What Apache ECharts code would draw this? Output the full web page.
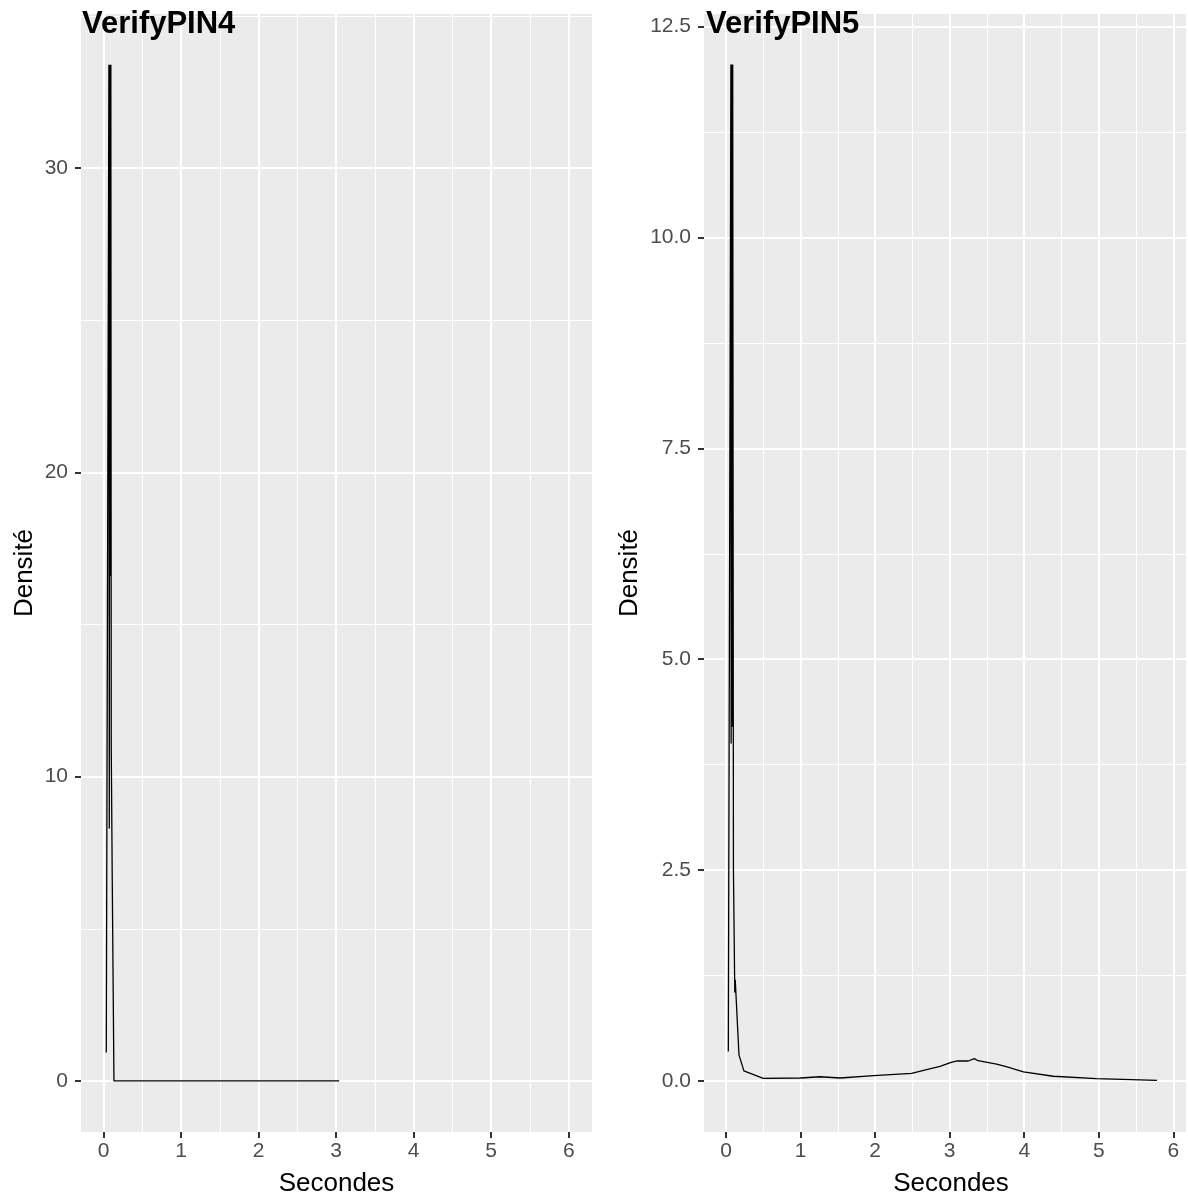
<!DOCTYPE html>
<html>
<head>
<meta charset="utf-8">
<script src="https://cdn.jsdelivr.net/npm/echarts@6/dist/echarts.min.js"></script>
<style>
html, body { margin: 0; padding: 0; background: #fff; }
#chart { width: 1188px; height: 1195px; }
</style>
</head>
<body>
<div id="chart"></div>
<script>
// VerifyPIN4 density curve (seconds, density)
const pin4X = [0.036, 0.07, 0.075, 0.078, 0.08, 0.082, 0.084, 0.086, 0.088, 0.09, 0.092, 0.095, 0.1, 0.113, 0.135, 0.5, 1.0, 1.5, 2.0, 2.5, 3.04];
const pin4Y = [0.93, 33.4, 8.3, 33.4, 16.6, 33.4, 16.7, 33.4, 16.6, 33.4, 16.7, 33.4, 11.0, 6.6, 0, 0, 0, 0, 0, 0, 0];

// VerifyPIN5 density curve
const pin5X = [0.031, 0.066, 0.069, 0.072, 0.075, 0.078, 0.081, 0.084, 0.087, 0.09, 0.094, 0.1, 0.118, 0.124, 0.174, 0.24, 0.5, 1.0, 1.26, 1.53, 1.98, 2.49, 2.65, 2.87, 3.01, 3.1, 3.25, 3.33, 3.38, 3.63, 3.77, 3.99, 4.39, 4.97, 5.78];
const pin5Y = [0.35, 12.05, 4.0, 12.05, 6.0, 12.05, 6.0, 12.05, 4.2, 12.05, 12.05, 2.49, 1.05, 1.2, 0.31, 0.12, 0.03, 0.035, 0.05, 0.035, 0.064, 0.09, 0.127, 0.174, 0.218, 0.237, 0.237, 0.265, 0.24, 0.2, 0.166, 0.107, 0.056, 0.028, 0.008];

// tick labels / grid breaks
const xTicks = [0, 1, 2, 3, 4, 5, 6];
const xMinor = [0.5, 1.5, 2.5, 3.5, 4.5, 5.5];
const pin4YTicks = [0, 10, 20, 30];
const pin4YMinor = [5, 15, 25, 35];
const pin5YTicks = [0, 2.5, 5, 7.5, 10, 12.5];
const pin5YMinor = [1.25, 3.75, 6.25, 8.75, 11.25];

const FONT = 'Liberation Sans, Arial, Helvetica, sans-serif';

function zip(xs, ys) {
    return xs.map((x, i) => [x, ys[i]]);
}

function majorAxis(grid, min, max, ticks, isY, fmt, name, nameGap, namePad) {
    return {
        type: 'value',
        gridIndex: grid,
        position: isY ? 'left' : 'bottom',
        offset: 0,
        min: min,
        max: max,
        name: name,
        nameLocation: 'middle',
        nameGap: nameGap,
        nameTextStyle: { fontSize: 26, color: '#000', fontFamily: FONT, padding: namePad || 0 },
        axisLine: { show: false, onZero: false },
        axisTick: { show: true, length: 6, customValues: ticks, lineStyle: { color: '#333', width: 2 } },
        axisLabel: {
            show: true, customValues: ticks, margin: isY ? 13 : 9,
            fontSize: 21, color: '#4d4d4d', fontFamily: FONT,
            formatter: fmt
        },
        splitLine: { show: true, lineStyle: { color: '#fff', width: 2.1 } },
        minorSplitLine: { show: false }
    };
}

function minorAxis(grid, min, max, ticks, isY) {
    return {
        type: 'value',
        gridIndex: grid,
        position: isY ? 'left' : 'bottom',
        offset: 0,
        min: min,
        max: max,
        axisLine: { show: false, onZero: false },
        axisTick: { show: false, customValues: ticks },
        axisLabel: { show: false, customValues: ticks },
        splitLine: { show: true, lineStyle: { color: '#fff', width: 1.1 } }
    };
}

const chart = echarts.init(document.getElementById('chart'));
chart.setOption({
    animation: false,
    backgroundColor: '#fff',
    title: [
        { text: 'VerifyPIN4', left: 82, top: 9, padding: 0,
          textStyle: { fontSize: 31, fontWeight: 'bold', color: '#000', fontFamily: FONT } },
        { text: 'VerifyPIN5', left: 706, top: 9, padding: 0,
          textStyle: { fontSize: 31, fontWeight: 'bold', color: '#000', fontFamily: FONT } }
    ],
    grid: [
        { left: 81, top: 14, width: 511, height: 1118, show: true, backgroundColor: '#ebebeb', borderWidth: 0, outerBoundsMode: 'none' },
        { left: 704, top: 14, width: 482, height: 1118, show: true, backgroundColor: '#ebebeb', borderWidth: 0, outerBoundsMode: 'none' }
    ],
    xAxis: [
        minorAxis(0, -0.29, 6.30, xMinor, false),
        minorAxis(1, -0.295, 6.17, xMinor, false),
        majorAxis(0, -0.29, 6.30, xTicks, false, v => String(v), 'Secondes', 39),
        majorAxis(1, -0.295, 6.17, xTicks, false, v => String(v), 'Secondes', 39, [0, 0, 0, 12])
    ],
    yAxis: [
        minorAxis(0, -1.68, 35.07, pin4YMinor, true),
        minorAxis(1, -0.605, 12.65, pin5YMinor, true),
        majorAxis(0, -1.68, 35.07, pin4YTicks, true, v => String(v), 'Densité', 43),
        majorAxis(1, -0.605, 12.65, pin5YTicks, true, v => v.toFixed(1), 'Densité', 61)
    ],
    series: [
        {
            type: 'line', xAxisIndex: 2, yAxisIndex: 2,
            data: zip(pin4X, pin4Y),
            showSymbol: false, symbol: 'none',
            lineStyle: { color: '#000', width: 1.3 }
        },
        {
            type: 'line', xAxisIndex: 3, yAxisIndex: 3,
            data: zip(pin5X, pin5Y),
            showSymbol: false, symbol: 'none',
            lineStyle: { color: '#000', width: 1.3 }
        }
    ]
});
</script>
</body>
</html>
